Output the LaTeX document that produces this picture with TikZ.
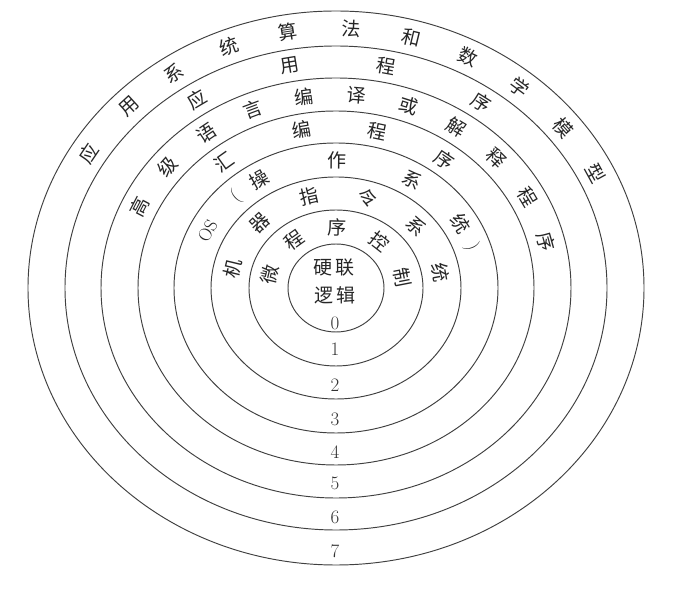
\documentclass[tikz,border=0pt]{standalone}
\usepackage{fontspec}
\newfontfamily\cjk{Noto Sans CJK SC}
\tikzset{
  ring/.style={draw=black!75, line width=0.95pt},
  ch/.style={font=\cjk\fontsize{19}{19}\selectfont, text=black!85, inner sep=0pt},
  num/.style={font=\fontsize{19}{19}\selectfont, text=black!80, inner sep=0pt},
}
% #1 name prefix, #2 x semi-axis, #3 y semi-axis, #4 list angle/char
\newcommand{\bandtext}[4]{%
  \foreach \t/\c [count=\i] in {#4} {%
    \pgfmathsetmacro{\rot}{atan2(#2*sin(\t),#3*cos(\t))-90}%
    \node[ch, rotate=\rot] (#1-\i) at ({336+#2*cos(\t)},{311+#3*sin(\t)}) {\c};
  }}
\begin{document}
\begin{tikzpicture}[x=1pt,y=1pt]
  \fill[white] (0,0) rectangle (675,599);
  \useasboundingbox (0,0) rectangle (675,599);
  % concentric rings 0..7
  \foreach \k/\rx/\ry in {0/48/44,1/87/78,2/125/111,3/162/145,4/198/177,5/235/210,6/271/242,7/308/277}
    \draw[ring] (336,311) ellipse [x radius=\rx pt, y radius=\ry pt];
  % centre
  \node[ch] (core1) at (334,331) {硬\kern3pt联};
  \node[ch] (core2) at (335,304) {逻\kern3pt辑};
  % band texts
  \bandtext{b1}{67.5}{61}{167.6/微,128.2/程,88.8/序,49.4/控,10/制}
  \bandtext{b2}{106}{94.5}{167.9/机,136.2/器,104.5/指,72.8/令,41.1/系,9.4/统}
  \bandtext{b3}{143.5}{128}{153.5/{\rmfamily\fontsize{18}{18}\selectfont OS},134.3/{\rmfamily (},122.3/操,89.5/作,58.1/系,30/统,18.8/{\rmfamily )}}
  \bandtext{b4}{180}{161}{128.4/汇,101/编,76.9/程,53/序}
  \bandtext{b5}{216.5}{193.5}{155.1/高,141/级,126.9/语,112.7/言,98.6/编,84.5/译,70.4/或,56.3/解,42.1/释,28/程,13.9/序}
  \bandtext{b6}{253}{226}{123.4/应,100.5/用,78.5/程,55/序}
  \bandtext{b7}{289.5}{259.5}{148.8/应,135.5/用,124.1/系,111.7/统,99.6/算,86.9/法,74.8/和,62.8/数,50.6/学,38.2/模,26.2/型}
  % layer numbers
  \foreach \n/\y in {0/276,1/250,2/214,3/180,4/147,5/116,6/82,7/48}
    \node[num] (n\n) at (335,\y) {\n};
\end{tikzpicture}
\end{document}
